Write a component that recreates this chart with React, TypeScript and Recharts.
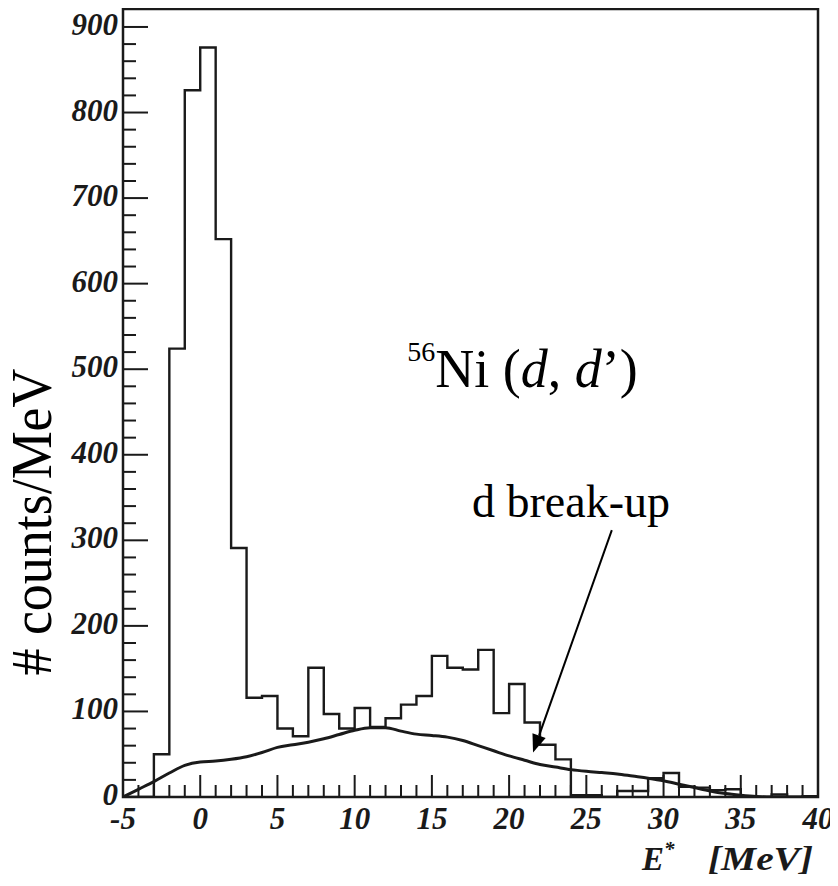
import React from 'react';
import { ComposedChart, Line, XAxis, YAxis, ReferenceArea, ReferenceLine, ReferenceDot, Label } from 'recharts';

// Bin edges of the E* histogram (MeV), 1 MeV wide bins
const energyEdges = [-5, -4, -3, -2, -1, 0, 1, 2, 3, 4, 5, 6, 7, 8, 9, 10, 11, 12, 13, 14, 15, 16, 17, 18, 19, 20, 21, 22, 23, 24, 25, 26, 27, 28, 29, 30, 31, 32, 33, 34, 35, 36, 37, 38, 39, 40];
// Counts per bin (bin starting at the matching edge)
const histCounts = [0, 0, 50, 524, 826, 876, 652, 291, 116, 118, 80, 71, 151, 97, 80, 104, 82, 92, 108, 118, 165, 151, 149, 172, 98, 132, 87, 61, 44, 2, 2, 0, 7, 7, 22, 28, 12, 11, 8, 9, 0, 0, 3, 0, 1];
// d break-up background curve, sampled at the bin edges
const breakupCurve = [0, 9, 18, 28, 37, 41, 42, 44, 47, 52, 58, 61, 64, 68, 73, 78, 81, 81, 77, 73.5, 72, 70, 66, 60, 54, 48, 43, 38, 35, 32, 30, 28.5, 27, 24.5, 22, 19, 15, 11, 7, 4, 2, 0.5, 0, 0, 0, 0];

const xTicks = [-5, -4, -3, -2, -1, 0, 1, 2, 3, 4, 5, 6, 7, 8, 9, 10, 11, 12, 13, 14, 15, 16, 17, 18, 19, 20, 21, 22, 23, 24, 25, 26, 27, 28, 29, 30, 31, 32, 33, 34, 35, 36, 37, 38, 39, 40];
const yTicks = [0, 20, 40, 60, 80, 100, 120, 140, 160, 180, 200, 220, 240, 260, 280, 300, 320, 340, 360, 380, 400, 420, 440, 460, 480, 500, 520, 540, 560, 580, 600, 620, 640, 660, 680, 700, 720, 740, 760, 780, 800, 820, 840, 860, 880, 900];

const xDomain = [-5, 40];
const yDomain = [0, 921];

// annotation anchors in data coordinates
const titleAnchor = { x: 13.4, y: 479 };
const breakupLabelAnchor = { x: 17.6, y: 327 };
const arrowSegment = [{ x: 26.65, y: 312 }, { x: 21.55, y: 52 }];

const data = energyEdges.map((e, i) => ({
  e,
  count: i < histCounts.length ? histCounts[i] : histCounts[histCounts.length - 1],
  bg: breakupCurve[i],
}));

const INK = '#1a1a1a';
const SERIF = '"Liberation Serif", "Times New Roman", serif';

const XTick = (props: any) => {
  const { x, y, payload } = props;
  const v = payload.value;
  const major = v % 5 === 0;
  return (
    <g>
      <line x1={x} x2={x} y1={y} y2={y - (major ? 22 : 12)} stroke={INK} strokeWidth={2} />
      {major && (
        <text x={x} y={y + 32} textAnchor="middle" fontFamily={SERIF} fontWeight="bold" fontStyle="italic" fontSize={31} fill={INK}>
          {v}
        </text>
      )}
    </g>
  );
};

const YTick = (props: any) => {
  const { x, y, payload } = props;
  const v = payload.value;
  const major = v % 100 === 0;
  return (
    <g>
      <line x1={x} x2={x + (major ? 25 : 13)} y1={y} y2={y} stroke={INK} strokeWidth={2} />
      {major && (
        <text x={x - 5} y={y + 8} textAnchor="end" fontFamily={SERIF} fontWeight="bold" fontStyle="italic" fontSize={31} fill={INK}>
          {v}
        </text>
      )}
    </g>
  );
};

const ArrowShape = (props: any) => {
  const { x1, y1, x2, y2 } = props;
  if ([x1, y1, x2, y2].some((v) => v == null || isNaN(v))) return null;
  const dx = x2 - x1;
  const dy = y2 - y1;
  const len = Math.sqrt(dx * dx + dy * dy);
  const ux = dx / len;
  const uy = dy / len;
  const headLen = 18;
  const headHalf = 7;
  const bx = x2 - ux * headLen;
  const by = y2 - uy * headLen;
  const px = -uy;
  const py = ux;
  return (
    <g>
      <line x1={x1} y1={y1} x2={bx} y2={by} stroke="#000" strokeWidth={2} />
      <polygon
        points={`${x2},${y2} ${bx + px * headHalf},${by + py * headHalf} ${bx - px * headHalf},${by - py * headHalf}`}
        fill="#000"
      />
    </g>
  );
};

const TitleShape = (props: any) => {
  const { cx, cy } = props;
  return (
    <text x={cx} y={cy} fontFamily={SERIF} fontSize={54} fill="#000">
      <tspan fontSize={28} dy={-26}>56</tspan>
      <tspan dy={26}>Ni (</tspan>
      <tspan fontStyle="italic">d</tspan>
      <tspan>, </tspan>
      <tspan fontStyle="italic">d</tspan>
      <tspan>’)</tspan>
    </text>
  );
};

const BreakupShape = (props: any) => {
  const { cx, cy } = props;
  return (
    <text x={cx} y={cy} fontFamily={SERIF} fontSize={46} fill="#000">
      d break-up
    </text>
  );
};

const YTitle = (props: any) => {
  const vb = props.viewBox || { x: 0, y: 0, width: 115, height: 788 };
  const cx = vb.x + 43;
  const cy = vb.y + vb.height / 2 + 119;
  return (
    <text
      x={cx}
      y={cy}
      transform={`rotate(-90 ${cx} ${cy})`}
      textAnchor="middle"
      fontFamily={SERIF}
      fontSize={57}
      textLength={307}
      lengthAdjust="spacingAndGlyphs"
      fill="#000"
    >
      # counts/MeV
    </text>
  );
};

const XTitle = (props: any) => {
  const vb = props.viewBox || { x: 115, y: 789, width: 695, height: 89 };
  const right = vb.x + vb.width;
  const y = vb.y + 73;
  return (
    <g fontFamily={SERIF} fontWeight="bold" fontStyle="italic" fill={INK}>
      <text x={right - 176} y={y} fontSize={33}>
        <tspan>E</tspan>
        <tspan fontSize={21} dy={-14}>*</tspan>
      </text>
      <text x={right - 110} y={y} fontSize={33} textLength={105} lengthAdjust="spacingAndGlyphs">
        [MeV]
      </text>
    </g>
  );
};

export default function App() {
  return (
    <div style={{ width: 830, height: 878, background: '#fff' }}>
      <ComposedChart width={830} height={878} data={data} margin={{ top: 1, right: 20, bottom: 0, left: 0 }}>
        <XAxis
          dataKey="e"
          type="number"
          domain={xDomain}
          ticks={xTicks}
          interval={0}
          allowDataOverflow
          axisLine={false}
          tickLine={false}
          tickSize={0}
          tickMargin={0}
          tick={<XTick />}
          height={89}
        >
          <Label content={<XTitle />} />
        </XAxis>
        <YAxis
          type="number"
          domain={yDomain}
          ticks={yTicks}
          interval={0}
          allowDataOverflow
          axisLine={false}
          tickLine={false}
          tickSize={0}
          tickMargin={0}
          tick={<YTick />}
          width={115}
        >
          <Label content={<YTitle />} />
        </YAxis>
        <Line
          type="stepAfter"
          dataKey="count"
          stroke={INK}
          strokeWidth={2.4}
          dot={false}
          activeDot={false}
          isAnimationActive={false}
        />
        <Line
          type="monotone"
          dataKey="bg"
          stroke={INK}
          strokeWidth={3}
          dot={false}
          activeDot={false}
          isAnimationActive={false}
        />
        <ReferenceArea x1={xDomain[0]} x2={xDomain[1]} y1={yDomain[0]} y2={yDomain[1]} fill="none" stroke={INK} strokeWidth={2.5} />
        <ReferenceLine segment={arrowSegment} shape={<ArrowShape />} ifOverflow="visible" />
        <ReferenceDot x={titleAnchor.x} y={titleAnchor.y} r={0} shape={<TitleShape />} ifOverflow="visible" />
        <ReferenceDot x={breakupLabelAnchor.x} y={breakupLabelAnchor.y} r={0} shape={<BreakupShape />} ifOverflow="visible" />
      </ComposedChart>
    </div>
  );
}
